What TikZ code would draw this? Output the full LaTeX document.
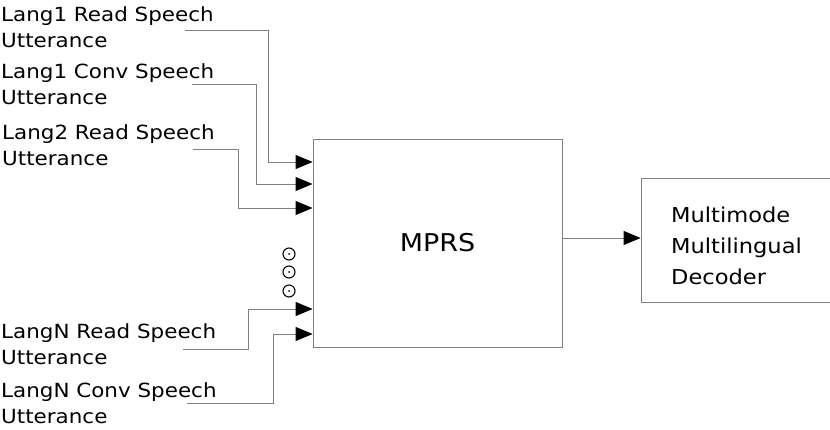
\documentclass[tikz,border=0pt]{standalone}
\usepackage{fontspec}
\setmainfont{DejaVu Sans}[FakeStretch=1.1]
\usetikzlibrary{arrows.meta}

\tikzset{
  block/.style={draw=gray, line width=0.8pt, inner sep=0pt},
  link/.style={draw=gray, line width=0.8pt, -{Triangle[length=17pt,width=14pt,black]}},
  utt/.style={anchor=north west, inner sep=0pt, align=left, font=\fontsize{19.5}{26}\selectfont},
  etc/.style={circle, draw, line width=1.1pt, minimum size=12pt, inner sep=0pt}
}

\begin{document}
\begin{tikzpicture}[x=1pt,y=-1pt]
\useasboundingbox (0,0) rectangle (830,430);

\node[block, minimum width=249pt, minimum height=208pt, font=\fontsize{24.5}{30}\selectfont] (mprs) at (437.5,243) {MPRS};
\node[block, minimum width=189pt, minimum height=124pt] (dec) at (735.5,240) {};
\node[anchor=north west, inner sep=0pt, align=left, font=\fontsize{20.5}{31}\selectfont] (dectxt) at (671,207) {Multimode\\Multilingual\\Decoder};

\node[utt] (l1) at (1,6) {Lang1 Read Speech\\Utterance};
\node[utt] (l2) at (1,63) {Lang1 Conv Speech\\Utterance};
\node[utt] (l3) at (2,124) {Lang2 Read Speech\\Utterance};
\node[utt] (l4) at (1,323) {LangN Read Speech\\Utterance};
\node[utt] (l5) at (1,382) {LangN Conv Speech\\Utterance};

% inputs
\coordinate (s1) at (185,30);  \coordinate (k1) at (268,162);
\coordinate (s2) at (192,84);  \coordinate (k2) at (256,184);
\coordinate (s3) at (193,149); \coordinate (k3) at (238,208);
\coordinate (s4) at (183,349); \coordinate (k4) at (248,309);
\coordinate (s5) at (187,403); \coordinate (k5) at (273,334);
\foreach \i in {1,...,5}
  \draw[link] (s\i) -| (k\i) -- (k\i -| mprs.west);

\foreach \y [count=\i] in {254,272,291} {
  \node[etc] (dot\i) at (289,\y) {};
  \fill (dot\i.center) circle (1pt);
}

% output
\coordinate (o) at (600,238);
\draw[link] (o -| mprs.east) -- (o -| dec.west);

\end{tikzpicture}
\end{document}
